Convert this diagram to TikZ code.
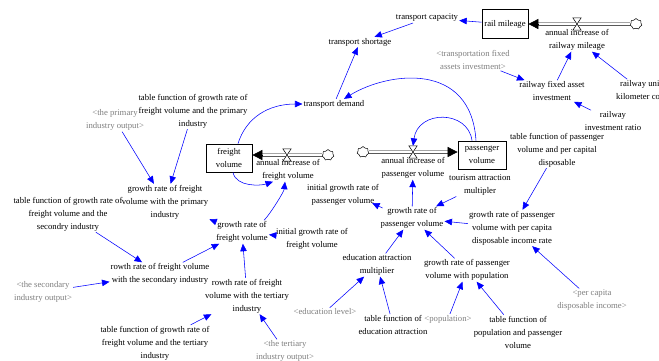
\documentclass[tikz,border=0pt]{standalone}
\usepackage{fontspec}
\setmainfont{Liberation Serif}
\usetikzlibrary{arrows.meta,shapes.symbols}
\definecolor{linkblue}{RGB}{0,0,255}
\definecolor{shadowgray}{RGB}{128,128,128}
\begin{document}
\begin{tikzpicture}[x=1pt,y=-1pt,
  var/.style={align=center,font=\fontsize{8.7}{13}\selectfont,inner sep=1pt},
  shadowvar/.style={var,text=shadowgray},
  stock/.style={draw,line width=0.7pt,align=center,font=\fontsize{8.7}{13}\selectfont,inner sep=1pt},
  link/.style={linkblue,line width=0.55pt,-{Triangle[length=7.5pt,width=6.5pt]}},
  pipe/.style={draw,line width=0.6pt,double=white,double distance=1.8pt},
  pipetip/.style={-{Triangle[length=10pt,width=10pt]},line width=0.6pt},
  valve/.style={minimum width=8pt,minimum height=12pt,inner sep=0pt},
  cloudsrc/.style={cloud,cloud puffs=7,aspect=1.1,draw,fill=white,line width=0.5pt,minimum width=12pt,minimum height=11pt,inner sep=0pt}
]
\fill[white] (0,0) rectangle (659,360);
\useasboundingbox (0,0) rectangle (659,360);

% stocks
\node[stock,minimum width=46pt,minimum height=29pt] (rail) at (505,24) {rail mileage};
\node[stock,minimum width=46pt,minimum height=28pt] (freight) at (229,158) {freight\\volume};
\node[stock,minimum width=48pt,minimum height=28pt] (pass) at (482,155) {passenger\\volume};

% valves and clouds
\node[valve] (railvalve) at (577,24) {};
\node[valve] (fvalve) at (287,155) {};
\node[valve] (pvalve) at (413,152) {};
\node[cloudsrc] (railcloud) at (636,24) {};
\node[cloudsrc] (fcloud) at (328,155) {};
\node[cloudsrc] (pcloud) at (363,152) {};
\coordinate (railend) at (rail.east |- railvalve);
\coordinate (fend) at (freight.east |- fvalve);
\coordinate (pend) at (pass.west |- pvalve);

% pipes
\draw[pipe] (railcloud.west) -- ([xshift=8pt]railend);
\draw[pipetip] ([xshift=10pt]railend) -- (railend);
\draw[pipe] (fcloud.west) -- ([xshift=8pt]fend);
\draw[pipetip] ([xshift=10pt]fend) -- (fend);
\draw[pipe] (pcloud.east) -- ([xshift=-8pt]pend);
\draw[pipetip] ([xshift=-10pt]pend) -- (pend);
\foreach \v in {railvalve,fvalve,pvalve}{
  \draw[fill=white,line width=0.5pt] (\v.north west) -- (\v.north east) -- (\v.south west) -- (\v.south east) -- cycle;
}

% flow labels
\node[var] (railflow) at (577,40) {annual increase of\\railway mileage};
\node[var] (fflow) at (288,170) {annual increase of\\freight volume};
\node[var] (pflow) at (413,168) {annual increase of\\passenger volume};

% top variables
\node[var] (tcap) at (427,18) {transport capacity};
\node[var] (tshort) at (360,42) {transport shortage};
\node[shadowvar] (tfai) at (473,60) {<transportation fixed\\assets investment>};
\node[var] (rfai) at (552,91) {railway fixed asset\\investment};
\node[var] (rukc) at (641,90) {railway unit\\kilometer cost};
\node[var] (rir) at (613,121) {railway\\investment ratio};
\node[var] (tdem) at (334,104) {transport demand};

% passenger side
\node[var] (tam) at (480,185) {tourism attraction\\multipler};
\node[var] (tfpv) at (557,150) {table function of passenger\\volume and per capital\\disposable};
\node[var] (grpc) at (512,228) {growth rate of passenger\\volume with per capita\\disposable income rate};
\node[shadowvar] (pcdi) at (592,300) {<per capita\\disposable income>};
\node[var] (grp) at (412,218) {growth rate of\\passenger volume};
\node[var] (igrp) at (343,195) {initial growth rate of\\passenger volume};
\node[var] (eam) at (377,265) {education attraction\\multiplier};
\node[var] (grpop) at (467,270) {growth rate of passenger\\volume with population};
\node[shadowvar] (edu) at (325,312) {<education level>};
\node[var] (tfea) at (393,325) {table function of\\education attraction};
\node[shadowvar] (pop) at (448,319) {<population>};
\node[var] (tfpop) at (518,332) {table function of\\population and passenger\\volume};

% freight side
\node[var] (grf) at (242,232) {growth rate of\\freight volume};
\node[var] (igrf) at (312,239) {initial growth rate of\\freight volume};
\node[var] (grfp) at (165,202) {growth rate of freight\\volume with the primary\\industry};
\node[shadowvar] (primo) at (115,120) {<the primary\\industry output>};
\node[var] (tfp) at (193,111) {table function of growth rate of\\freight volume and the primary\\industry};
\node[var] (tfs) at (68,214) {table function of growth rate of\\freight volume and the\\secondry industry};
\node[var] (grfs) at (160,274) {rowth rate of freight volume\\with the secondary industry};
\node[shadowvar] (seco) at (43,292) {<the secondary\\industry output>};
\node[var] (grft) at (247,296) {rowth rate of freight\\volume with the tertiary\\industry};
\node[var] (tft) at (155,343) {table function of growth rate of\\freight volume and the tertiary\\industry};
\node[shadowvar] (tero) at (285,351) {<the tertiary\\industry output>};

% links top
\draw[link] (rail) -- (tcap);
\draw[link] (tcap) -- (tshort);
\draw[link] (tdem) -- (tshort);
\draw[link] (tfai) -- (rfai);
\draw[link] (rir) -- (rfai);
\draw[link] (rfai) -- (railflow);
\draw[link] (rukc) -- (railflow);

% curved links
\draw[link] ([xshift=9pt]freight.north) .. controls +(8,-26) and +(-34,0) .. (tdem.west);
\draw[link] ([xshift=4pt]freight.south) .. controls +(3,15) and +(-12,4) .. ([xshift=-15pt]fflow.south);
\draw[link] ([xshift=22pt]grf.north) .. controls +(6,-6) and +(-1,10) .. ([xshift=-3pt]fflow.south);
\draw[link] ([xshift=-6pt]pass.north) .. controls +(-5,-80) and +(44,-27) .. ([xshift=10pt]tdem.north);
\draw[link] ([xshift=-10pt]pass.north) .. controls +(-4,-31) and +(5,-36) .. (pvalve.north);

% passenger links
\draw[link] (grp) -- (pflow);
\draw[link] ([xshift=3pt,yshift=10pt]grp.west) -- ([xshift=-8pt,yshift=-8pt]igrp.east);
\draw[link] (tam) -- (grp);
\draw[link] (grpc) -- (grp);
\draw[link] (tfpv) -- (grpc);
\draw[link] (pcdi) -- (grpc);
\draw[link] (eam) -- (grp);
\draw[link] (grpop) -- (grp);
\draw[link] (edu) -- (eam);
\draw[link] (tfea) -- (eam);
\draw[link] (pop) -- (grpop);
\draw[link] (tfpop) -- (grpop);

% freight links
\draw[link] (igrf) -- (grf);
\draw[link] (grf) -- (grfp);
\draw[link] (primo) -- (grfp);
\draw[link] (tfp) -- (grfp);
\draw[link] (tfs) -- (grfs);
\draw[link] (grfs) -- (grf);
\draw[link] (seco) -- (grfs);
\draw[link] (grft) -- (grf);
\draw[link] (tft) -- (grft);
\draw[link] (tero) -- (grft);
\end{tikzpicture}
\end{document}
